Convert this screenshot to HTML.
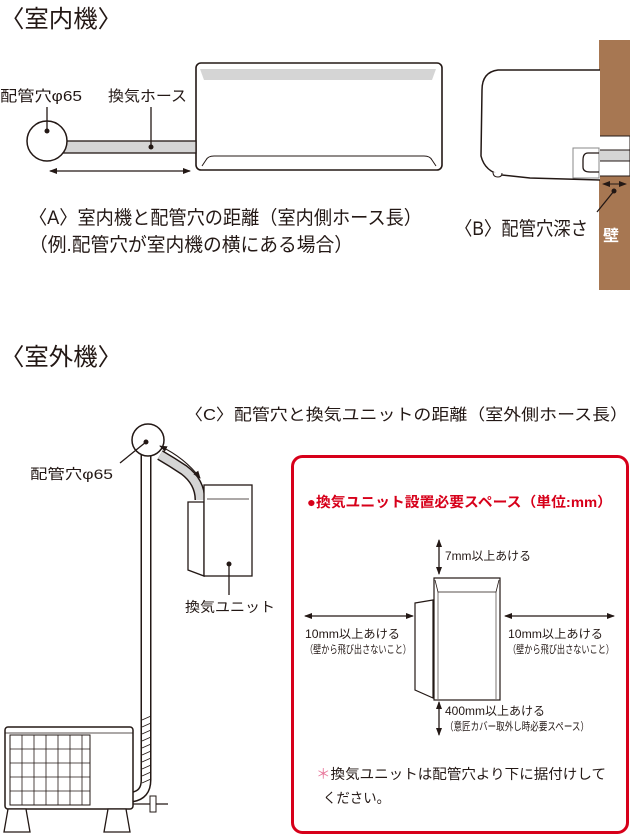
<!DOCTYPE html>
<html><head><meta charset="utf-8"><style>
html,body{margin:0;padding:0;background:#fff;}
svg{display:block;}
text{font-family:"Liberation Sans","Noto Sans CJK JP",sans-serif;fill:#231815;}
</style></head><body>
<svg width="630" height="835" viewBox="0 0 630 835" xmlns="http://www.w3.org/2000/svg">
<defs>
<marker id="ah" markerWidth="8" markerHeight="8" refX="7" refY="4" orient="auto" markerUnits="userSpaceOnUse"><path d="M0,1 L8,4 L0,7 z" fill="#231815"/></marker>
<marker id="ahs" markerWidth="8" markerHeight="8" refX="1" refY="4" orient="auto" markerUnits="userSpaceOnUse"><path d="M8,1 L0,4 L8,7 z" fill="#231815"/></marker>
</defs>
<text x="0" y="27" font-size="24" textLength="122" lengthAdjust="spacingAndGlyphs">〈室内機〉</text>
<!-- indoor unit -->
<rect x="196" y="63" width="246" height="107" rx="5" fill="#fff" stroke="#231815" stroke-width="1.6"/>
<path d="M200,69 L436,69 L432,80 L204,80 Z" fill="#d5d5d5"/>
<path d="M202,166 L206,160 Q208,156 214,156 L424,156 Q430,156 432,160 L436,166" fill="none" stroke="#231815" stroke-width="1"/>
<!-- hose -->
<rect x="62" y="141" width="134" height="12" fill="#d5d5d5" stroke="#231815" stroke-width="1.3"/>
<circle cx="47" cy="141" r="20" fill="#fff" stroke="#231815" stroke-width="1.5"/>
<circle cx="47" cy="131" r="2.5" fill="#231815"/>
<line x1="47" y1="107" x2="47" y2="131" stroke="#231815" stroke-width="1.3"/>
<circle cx="151" cy="147" r="2.5" fill="#231815"/>
<line x1="151" y1="107" x2="151" y2="147" stroke="#231815" stroke-width="1.3"/>
<text x="0" y="101" font-size="15" textLength="82" lengthAdjust="spacingAndGlyphs">配管穴φ65</text>
<text x="108" y="101" font-size="15" textLength="79" lengthAdjust="spacingAndGlyphs">換気ホース</text>
<line x1="50" y1="171" x2="190" y2="171" stroke="#231815" stroke-width="1.2" marker-end="url(#ah)" marker-start="url(#ahs)"/>
<text x="29" y="224" font-size="19" textLength="393" lengthAdjust="spacingAndGlyphs">〈A〉室内機と配管穴の距離（室内側ホース長）</text>
<text x="29" y="251" font-size="19" textLength="324" lengthAdjust="spacingAndGlyphs">（例.配管穴が室内機の横にある場合）</text>
<!-- side unit + wall -->
<rect x="599" y="40" width="31" height="250" fill="#a77752"/>
<rect x="599" y="136" width="31" height="40" fill="#fff" stroke="#231815" stroke-width="1"/>
<rect x="599" y="150" width="31" height="11" fill="#d5d5d5" stroke="#231815" stroke-width="1"/>
<path d="M600,70 L498,70 Q482,72 482,90 L481,156 Q485,172 502,175 L530,178 L600,180" fill="#fff" stroke="#231815" stroke-width="1.5"/>
<path d="M493,172 q0,5 5,5 q4,0 4,-4" fill="#fff" stroke="#231815" stroke-width="1"/>
<rect x="573" y="148" width="26" height="30" fill="none" stroke="#888" stroke-width="1"/>
<path d="M599,153 L588,153 Q583,153 583,160 L583,167 Q583,172 590,172 L599,172" fill="none" stroke="#231815" stroke-width="1.3"/>
<line x1="603" y1="184" x2="626" y2="184" stroke="#231815" stroke-width="1" marker-end="url(#ah)" marker-start="url(#ahs)"/>
<circle cx="614" cy="191" r="2.5" fill="#231815"/>
<line x1="614" y1="191" x2="597" y2="212" stroke="#231815" stroke-width="1.3"/>
<text x="455" y="235" font-size="19" textLength="133" lengthAdjust="spacingAndGlyphs">〈B〉配管穴深さ</text>
<text x="603" y="241" font-size="16" font-weight="bold" style="fill:#fff">壁</text>

<text x="0" y="365" font-size="24" textLength="122" lengthAdjust="spacingAndGlyphs">〈室外機〉</text>
<text x="185" y="420" font-size="16" textLength="443" lengthAdjust="spacingAndGlyphs">〈C〉配管穴と換気ユニットの距離（室外側ホース長）</text>
<!-- outdoor pipe -->
<path d="M146,455 L146,780 Q146,795 132,797" fill="none" stroke="#231815" stroke-width="11"/>
<path d="M146,455 L146,780 Q146,795 132,797" fill="none" stroke="#fff" stroke-width="8"/>
<g stroke="#231815" stroke-width="0.8">
<line x1="142" y1="720" x2="151" y2="716"/><line x1="142" y1="727" x2="151" y2="723"/><line x1="142" y1="734" x2="151" y2="730"/><line x1="142" y1="741" x2="151" y2="737"/><line x1="142" y1="748" x2="151" y2="744"/><line x1="142" y1="755" x2="151" y2="751"/><line x1="142" y1="762" x2="151" y2="758"/><line x1="142" y1="769" x2="151" y2="765"/><line x1="142" y1="776" x2="151" y2="772"/><line x1="142" y1="783" x2="151" y2="779"/>
</g>
<line x1="133" y1="804" x2="168" y2="804" stroke="#231815" stroke-width="1.3"/>
<rect x="150" y="796" width="6" height="16" fill="#fff" stroke="#231815" stroke-width="1"/>
<!-- hose to unit -->
<path d="M160,455 Q172,462 184,470 Q200,482 200,500" fill="none" stroke="#231815" stroke-width="11"/>
<path d="M160,455 Q172,462 184,470 Q200,482 200,500" fill="none" stroke="#d5d5d5" stroke-width="8"/>
<circle cx="148" cy="440" r="16" fill="#fff" stroke="#231815" stroke-width="1.5"/>
<circle cx="146" cy="442" r="2.5" fill="#231815"/>
<line x1="146" y1="442" x2="120" y2="463" stroke="#231815" stroke-width="1.3"/>
<path d="M160,446 Q185,458 200,478" fill="none" stroke="#231815" stroke-width="1.1" marker-start="url(#ahs)" marker-end="url(#ah)"/>
<text x="30" y="479" font-size="14" textLength="83" lengthAdjust="spacingAndGlyphs">配管穴φ65</text>
<!-- vent unit -->
<path d="M188,502 L204,502 L204,576 L188,570 Z" fill="#fff" stroke="#231815" stroke-width="1.3"/>
<rect x="204" y="485" width="48" height="91" fill="#fff" stroke="#231815" stroke-width="1.3"/>
<line x1="207" y1="499" x2="249" y2="499" stroke="#231815" stroke-width="0.8"/>
<circle cx="229" cy="564" r="2.5" fill="#231815"/>
<line x1="229" y1="564" x2="229" y2="595" stroke="#231815" stroke-width="1.3"/>
<text x="185" y="612" font-size="14" textLength="90" lengthAdjust="spacingAndGlyphs">換気ユニット</text>
<!-- outdoor unit -->
<rect x="5" y="727" width="128" height="82" rx="3" fill="#fff" stroke="#231815" stroke-width="1.5"/>
<line x1="5" y1="733" x2="133" y2="733" stroke="#231815" stroke-width="0.8"/>
<rect x="10" y="735" width="80" height="70" fill="#fff" stroke="#231815" stroke-width="1"/>
<g stroke="#231815" stroke-width="0.8">
<line x1="10" y1="749" x2="90" y2="749"/><line x1="10" y1="763" x2="90" y2="763"/><line x1="10" y1="777" x2="90" y2="777"/><line x1="10" y1="791" x2="90" y2="791"/>
<line x1="22" y1="735" x2="22" y2="805"/><line x1="34" y1="735" x2="34" y2="805"/><line x1="46" y1="735" x2="46" y2="805"/><line x1="58" y1="735" x2="58" y2="805"/><line x1="70" y1="735" x2="70" y2="805"/><line x1="82" y1="735" x2="82" y2="805"/>
</g>
<path d="M8,809 L4,832 L30,832 L26,809 Z" fill="#fff" stroke="#231815" stroke-width="1.3"/>
<path d="M108,809 L104,832 L130,832 L126,809 Z" fill="#fff" stroke="#231815" stroke-width="1.3"/>
<!-- red box -->
<rect x="292.5" y="456.5" width="335" height="376" rx="10" fill="#fff" stroke="#d7001a" stroke-width="3"/>
<text x="307" y="507" font-size="14" font-weight="bold" style="fill:#d7001a" textLength="305" lengthAdjust="spacingAndGlyphs">●換気ユニット設置必要スペース（単位:mm）</text>
<path d="M415,603 L433,600 L433,698 L415,690 Z" fill="#fff" stroke="#231815" stroke-width="1.2"/>
<rect x="434" y="578" width="66" height="122" fill="#fff" stroke="#231815" stroke-width="1.2"/>
<path d="M435,580 L438,592 L496,592 L499,580" fill="none" stroke="#231815" stroke-width="0.8"/>
<line x1="438" y1="592" x2="438" y2="699" stroke="#231815" stroke-width="0.6"/>
<line x1="496" y1="592" x2="496" y2="699" stroke="#231815" stroke-width="0.6"/>
<line x1="439" y1="540" x2="439" y2="574" stroke="#231815" stroke-width="1.3" marker-start="url(#ahs)" marker-end="url(#ah)"/>
<text x="445" y="560" font-size="12" textLength="86" lengthAdjust="spacingAndGlyphs">7mm以上あける</text>
<line x1="305" y1="616" x2="413" y2="616" stroke="#231815" stroke-width="1.3" marker-start="url(#ahs)" marker-end="url(#ah)"/>
<line x1="505" y1="616" x2="614" y2="616" stroke="#231815" stroke-width="1.3" marker-start="url(#ahs)" marker-end="url(#ah)"/>
<text x="305" y="638" font-size="12" textLength="95" lengthAdjust="spacingAndGlyphs">10mm以上あける</text>
<text x="305" y="653" font-size="11" textLength="106" lengthAdjust="spacingAndGlyphs">（壁から飛び出さないこと）</text>
<text x="508" y="638" font-size="12" textLength="95" lengthAdjust="spacingAndGlyphs">10mm以上あける</text>
<text x="508" y="653" font-size="11" textLength="106" lengthAdjust="spacingAndGlyphs">（壁から飛び出さないこと）</text>
<line x1="439" y1="702" x2="439" y2="735" stroke="#231815" stroke-width="1.3" marker-start="url(#ahs)" marker-end="url(#ah)"/>
<text x="445" y="715" font-size="12" textLength="100" lengthAdjust="spacingAndGlyphs">400mm以上あける</text>
<text x="445" y="730" font-size="11" textLength="144" lengthAdjust="spacingAndGlyphs">（意匠カバー取外し時必要スペース）</text>
<text x="316" y="779" font-size="14" textLength="290" lengthAdjust="spacingAndGlyphs"><tspan style="fill:#e8799c">＊</tspan>換気ユニットは配管穴より下に据付けして</text>
<text x="323" y="803" font-size="14" textLength="67" lengthAdjust="spacingAndGlyphs">ください。</text>
</svg>
</body></html>
